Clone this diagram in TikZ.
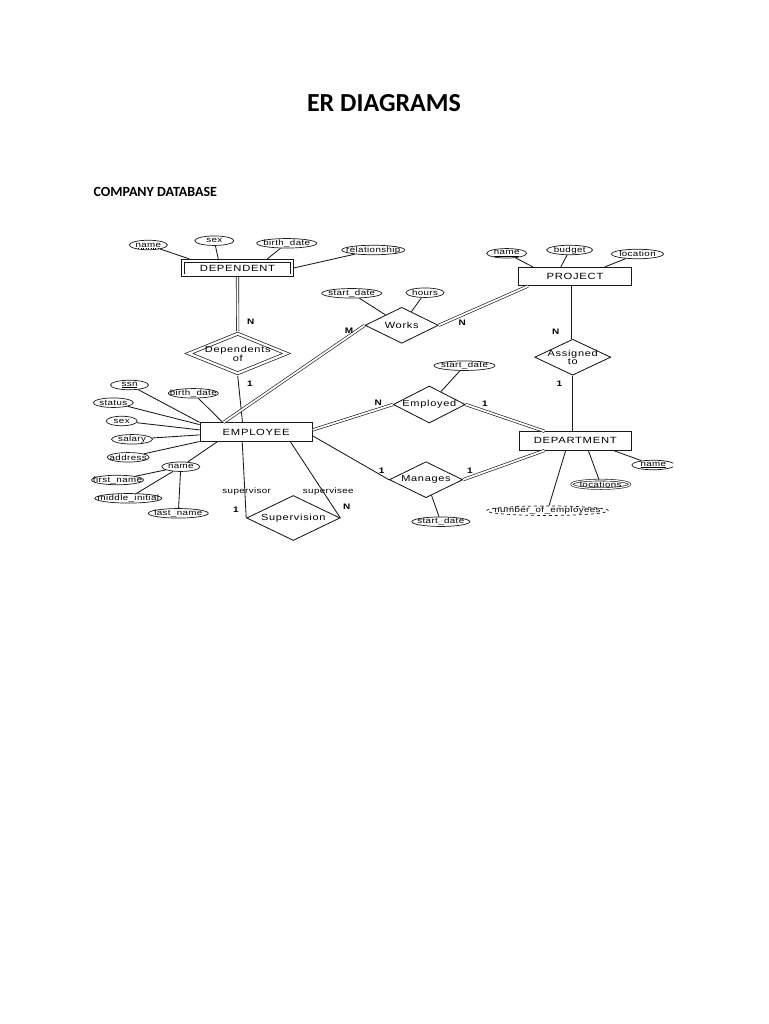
\documentclass[tikz,border=0pt]{standalone}
\usepackage{fontspec}
\setmainfont{Liberation Sans}
\newfontfamily\titlefam{Carlito}
\newfontfamily\entfam{Liberation Sans}[FakeStretch=1.25,LetterSpace=8]
\newfontfamily\relfam{Liberation Sans}[FakeStretch=1.25,LetterSpace=8]
\newfontfamily\attfam{Liberation Sans}[FakeStretch=1.25,LetterSpace=5]
\usetikzlibrary{shapes.geometric}
\tikzset{
  ln/.style={line width=0.85pt, black!90},
  dbl/.style={line width=0.65pt, black!90, double, double distance=1.8pt},
  ent/.style={rectangle, draw=black!90, line width=0.85pt, inner sep=0pt, font=\entfam\fontsize{9}{10}\selectfont},
  wkent/.style={ent, double, double distance=2.2pt, line width=0.7pt, outer sep=1.8pt},
  rel/.style={diamond, draw=black!90, line width=0.85pt, inner sep=0pt},
  wkrel/.style={rel, double, double distance=2.2pt, line width=0.7pt, outer sep=1.8pt},
  attr/.style={ellipse, draw=black!90, line width=0.7pt, inner sep=0pt, minimum height=9.5pt},
  rtxt/.style={font=\relfam\fontsize{8.8}{7.5}\selectfont, inner sep=0pt, align=center},
  atxt/.style={font=\attfam\fontsize{7.8}{8}\selectfont, inner sep=0pt},
  card/.style={font=\attfam\bfseries\fontsize{8}{8}\selectfont, inner sep=0pt},
}
\begin{document}
\begin{tikzpicture}[x=1pt,y=-1pt]
\useasboundingbox (0,0) rectangle (768,1024);
\fill[white] (0,0) rectangle (768,1024);
\node[anchor=base, font=\titlefam\bfseries\fontsize{26}{30}\selectfont, inner sep=0pt] (title) at (384,111.7) {ER DIAGRAMS};
\node[anchor=base west, font=\titlefam\bfseries\fontsize{14}{17}\selectfont, inner sep=0pt] (sub) at (93.3,196.7) {COMPANY DATABASE};
\begin{scope}
\clip (91,228) rectangle (673,541);
% entities
\node[wkent, minimum width=108.8, minimum height=14.6] (dep) at (237.5,268) {DEPENDENT};
\node[ent, minimum width=113.4, minimum height=18.4] (proj) at (575,276.5) {PROJECT};
\node[ent, minimum width=112.3, minimum height=18.3] (emp) at (256.2,431.9) {EMPLOYEE};
\node[ent, minimum width=112.7, minimum height=18.3] (dept) at (575.3,440.9) {DEPARTMENT};
% relationships
\node[rel, minimum width=73.3, minimum height=36, label={[rtxt]center:Works}] (works) at (401.7,325.3) {};
\node[wkrel, minimum width=99, minimum height=41, label={[rtxt]center:Dependents\\of}] (depof) at (237.7,353.5) {};
\node[rel, minimum width=76, minimum height=36, label={[rtxt]center:Assigned\\to}] (assigned) at (572.7,357.2) {};
\node[rel, minimum width=72, minimum height=37, label={[rtxt]center:Employed}] (employed) at (429.3,404.5) {};
\node[rel, minimum width=73.4, minimum height=36, label={[rtxt]center:Manages}] (manages) at (426,479.7) {};
\node[rel, minimum width=93.3, minimum height=45, label={[rtxt]center:Supervision}] (superv) at (293.3,518) {};
% attributes of DEPENDENT
\node[attr, minimum width=38, label={[atxt]center:name}] (dname) at (148.3,245) {};
\draw[line width=0.45pt, dotted] ([xshift=-10,yshift=-3.2]dname.center) -- ([xshift=10,yshift=-3.2]dname.center);
\node[attr, minimum width=39, label={[atxt]center:sex}] (dsex) at (214.3,240.7) {};
\node[attr, minimum width=60, label={[atxt]center:birth\_date}] (dbirth) at (286.7,243.3) {};
\node[attr, minimum width=63, label={[atxt]center:relationship}] (drel) at (373.3,250) {};
% attributes of PROJECT
\node[attr, minimum width=40, label={[atxt]center:\underline{name}}] (pname) at (506.7,253.3) {};
\node[attr, minimum width=46, label={[atxt]center:budget}] (pbudget) at (569.7,250) {};
\node[attr, minimum width=52, label={[atxt]center:location}] (ploc) at (637.5,254) {};
% attributes of Works
\node[attr, minimum width=60, label={[atxt]center:start\_date}] (wstart) at (351.7,293.3) {};
\node[attr, minimum width=38, label={[atxt]center:hours}] (whours) at (425,292.7) {};
% attribute of Employed
\node[attr, minimum width=61, label={[atxt]center:start\_date}] (estart) at (464.5,365.7) {};
% attributes of EMPLOYEE
\node[attr, minimum width=38, label={[atxt]center:\underline{ssn}}] (ssn) at (129.5,385) {};
\node[attr, minimum width=50, label={[atxt]center:birth\_date}] (ebirth) at (193.3,393.3) {};
\node[attr, minimum width=40, label={[atxt]center:status}] (status) at (113.3,402.7) {};
\node[attr, minimum width=31, label={[atxt]center:sex}] (esex) at (121.7,421) {};
\node[attr, minimum width=41, label={[atxt]center:salary}] (salary) at (132,439.3) {};
\node[attr, minimum width=42, label={[atxt]center:address}] (address) at (128.2,457.3) {};
\node[attr, minimum width=38, label={[atxt]center:name}] (ename) at (180.8,466.7) {};
\node[attr, minimum width=52, label={[atxt]center:first\_name}] (first) at (117.5,480) {};
\node[attr, minimum width=67, label={[atxt]center:middle\_initial}] (middle) at (128.3,498.3) {};
\node[attr, minimum width=60, label={[atxt]center:last\_name}] (last) at (178.3,513.3) {};
% attribute of Manages
\node[attr, minimum width=58, label={[atxt]center:start\_date}] (mstart) at (440.8,521.7) {};
% attributes of DEPARTMENT
\node[attr, dashed, minimum width=122, label={[atxt]center:number\_of\_employees}] (numemp) at (547.5,510.7) {};
\node[attr, double, double distance=1.2pt, line width=0.6pt, minimum width=58, minimum height=8.5, label={[atxt]center:locations}] (locs) at (600.7,484.3) {};
\node[attr, minimum width=43, label={[atxt]center:\underline{name}}] (dtname) at (653.3,465) {};
% connectors: DEPENDENT
\draw[ln] (dname) -- ([xshift=8]dep.north west);
\draw[ln] (dsex) -- ([xshift=37]dep.north west);
\draw[ln] (dbirth) -- ([xshift=86]dep.north west);
\draw[ln] (drel) -- (dep.east);
\draw[dbl] (dep.south) -- (depof.north);
\draw[ln] (depof.south) -- ([xshift=-13.7]emp.north);
% connectors: EMPLOYEE attributes
\draw[ln] (ssn) -- (emp.north west);
\draw[ln] (ebirth) -- ([xshift=23]emp.north west);
\draw[ln] (status) -- ([yshift=-2.3]emp.north west);
\draw[ln] (esex) -- ([yshift=2]emp.west);
\draw[ln] (salary) -- ([yshift=-3]emp.west);
\draw[ln] (address) -- (emp.south west);
\draw[ln] (ename) -- ([xshift=18]emp.south west);
\draw[ln] (first) -- (ename);
\draw[ln] (middle) -- (ename);
\draw[ln] (last) -- (ename);
% Works
\draw[dbl] (works.west) -- ([xshift=24]emp.north west);
\draw[dbl] (works.east) -- ([xshift=10]proj.south west);
\draw[ln] (wstart) -- (works);
\draw[ln] (whours) -- (works);
% PROJECT
\draw[ln] (pname) -- ([xshift=15]proj.north west);
\draw[ln] (pbudget) -- ([xshift=43]proj.north west);
\draw[ln] (ploc) -- ([xshift=87]proj.north west);
\draw[dbl] ([xshift=-2.3]proj.south) -- (assigned.north);
\draw[ln] (assigned.south) -- ([xshift=-2.6]dept.north);
% Employed
\draw[dbl] ([yshift=2]emp.east) -- (employed.west);
\draw[dbl] (employed.east) -- ([xshift=26]dept.north west);
\draw[ln] (estart) -- (employed);
% Manages
\draw[ln] ([yshift=-4]emp.east) -- (manages.west);
\draw[dbl] (manages.east) -- ([xshift=26]dept.south west);
\draw[ln] (manages) -- (mstart);
% DEPARTMENT attributes
\draw[ln] (numemp) -- ([xshift=-9.6]dept.south);
\draw[ln] (locs) -- ([xshift=13]dept.south);
\draw[ln] (dtname) -- ([xshift=38]dept.south);
% Supervision
\draw[ln] ([xshift=-14]emp.south) -- (superv.west);
\draw[ln] ([xshift=34]emp.south) -- (superv.east);
% cardinality and role labels
\node[card] (c1) at (250.7,321.7) {N};
\node[card] (c2) at (250,384) {1};
\node[card] (c3) at (349,331) {M};
\node[card] (c4) at (462.3,322.3) {N};
\node[card] (c5) at (555.7,331.7) {N};
\node[card] (c6) at (559.3,384) {1};
\node[card] (c7) at (378.3,402.7) {N};
\node[card] (c8) at (485,404) {1};
\node[card] (c9) at (381.7,470.7) {1};
\node[card] (c10) at (470,470.7) {1};
\node[card] (c11) at (236,509.3) {1};
\node[card] (c12) at (346.7,506.7) {N};
\node[atxt] (r1) at (246.7,491.7) {supervisor};
\node[atxt] (r2) at (328.3,491.7) {supervisee};
\end{scope}
\end{tikzpicture}
\end{document}
